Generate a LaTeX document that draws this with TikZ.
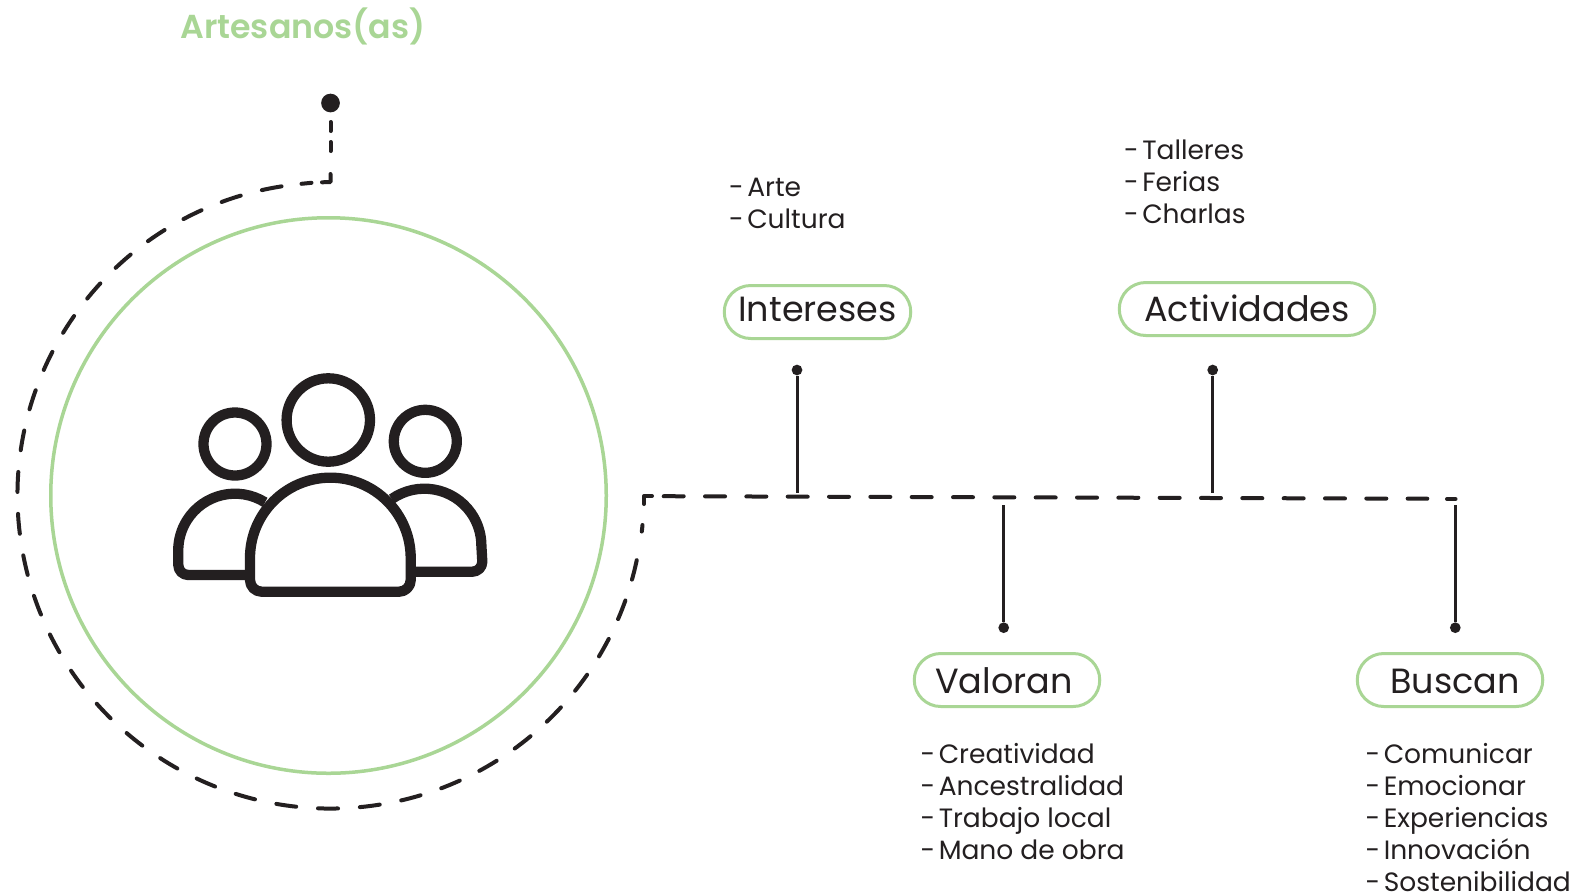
\documentclass[tikz,border=0pt]{standalone}
\usepackage{fontspec}
\setmainfont{Poppins}
\newfontfamily\titlefont{Poppins SemiBold}
\definecolor{leaf}{HTML}{A9D695}
\definecolor{ink}{HTML}{231F20}
\newcommand{\li}{-\hspace{0.13em}}
\tikzset{
  pill/.style={draw=leaf,line width=3pt,rounded corners=26.5pt,minimum height=53pt,inner sep=0pt,text=ink,text depth=0pt,font=\fontsize{35}{35}\selectfont},
  listing/.style={anchor=west,align=left,inner sep=0pt,text=ink,font=\fontsize{26.5}{32}\selectfont},
  dashline/.style={draw=ink,line width=4pt,line cap=round},
  longdash/.style={dashline,dash pattern=on 20pt off 21.33pt},
  stem/.style={draw=ink,line width=3pt},
  dotnode/.style={circle,fill=ink,inner sep=0pt,minimum size=#1},
  icon/.style={draw=ink,line width=10.3pt,line join=round}
}
\begin{document}
\begin{tikzpicture}[x=1pt,y=-1pt]
\useasboundingbox (0,0) rectangle (1581,895);
\fill[white] (0,0) rectangle (1581,895);
\node[text=leaf,inner sep=0pt,font=\titlefont\fontsize{33.2}{33}\selectfont] (title) at (303,26) {Artesanos(as)};
\node[draw=leaf,line width=3.5pt,circle,minimum size=555.5pt,inner sep=0pt] (ring) at (328.5,495.5) {};
% dashed orbit
\node[dotnode=18.7pt] (topdot) at (330.5,103) {};
\coordinate (orbit) at (330.5,495.5);
\coordinate (topcorner) at (330.5,182);
\coordinate (hub) at (644,496);
\coordinate (hubend) at (1427.3,498.7);
\draw[dashline,dash pattern=on 9pt off 11pt] (330.5,122) -- (330.5,151);
\draw[dashline,line join=round] (330.5,174) -- (topcorner) -- (322,182.3);
\draw[dashline] (311.5,182.8) -- (301.5,183.8);
\draw[dashline,dash pattern=on 20pt off 21.9pt] ([shift={(-99:313)}]orbit) arc[start angle=-99,end angle=-349.3,radius=313];
\draw[dashline] (642.5,525) -- (641.8,531.5);
\draw[dashline,line join=round] (644,504) -- (hub) -- (652,496);
\draw[longdash] (663.7,496.2) -- (hubend);
\draw[dashline] (1447,499) -- (1455.5,499);
% icon
\draw[icon] (328.3,420) circle[radius=41.7];
\draw[icon] (235,444) circle[radius=31.5];
\draw[icon] (425.3,441.3) circle[radius=31.5];
\draw[icon] (265,502.3) arc[start angle=-58,end angle=-180,radius=56.7] -- (178.3,565) arc[start angle=180,end angle=90,radius=10] -- (250,575);
\draw[icon] (391.7,499) arc[start angle=-125,end angle=0,radius=57] -- (482.3,561.7) arc[start angle=0,end angle=90,radius=10] -- (410,571.7);
\draw[icon] (250,558) arc[start angle=180,end angle=360,radius=80.35] -- (410.7,580) arc[start angle=0,end angle=90,radius=11.7] -- (261.7,591.7) arc[start angle=90,end angle=180,radius=11.7] -- cycle;
% pills
\node[pill,minimum width=186.5pt,text height=19.4pt] (int) at (817.5,312) {Intereses};
\node[pill,minimum width=255.5pt,text height=25.4pt] (act) at (1247,309) {Actividades};
\node[pill,minimum width=185.5pt,text height=26.4pt] (val) at (1007,680) {\kern-6pt Valoran};
\node[pill,minimum width=185.5pt,text height=26.4pt] (bus) at (1450,680) {\kern10pt Buscan};
% stems
\node[dotnode=10.7pt] (d1) at (797,370) {};
\node[dotnode=10.7pt] (d2) at (1212.7,370) {};
\node[dotnode=10.7pt] (d3) at (1003.7,627.7) {};
\node[dotnode=10.7pt] (d4) at (1455.3,627.7) {};
\coordinate (j1) at (797,493);
\coordinate (j2) at (1212.7,493);
\coordinate (j3) at (1003.7,505);
\coordinate (j4) at (1455.3,505);
\draw[stem] (d1) -- (j1);
\draw[stem] (d2) -- (j2);
\draw[stem] (d3) -- (j3);
\draw[stem] (d4) -- (j4);
% lists
\node[listing] (l1) at (729,203) {\li Arte\\\li Cultura};
\node[listing] (l2) at (1124,182) {\li Talleres\\\li Ferias\\\li Charlas};
\node[listing] (l3) at (920.5,801.8) {\li Creatividad\\\li Ancestralidad\\\li Trabajo local\\\li Mano de obra};
\node[listing] (l4) at (1365.5,817.8) {\li Comunicar\\\li Emocionar\\\li Experiencias\\\li Innovación\\\li Sostenibilidad};
\end{tikzpicture}
\end{document}
